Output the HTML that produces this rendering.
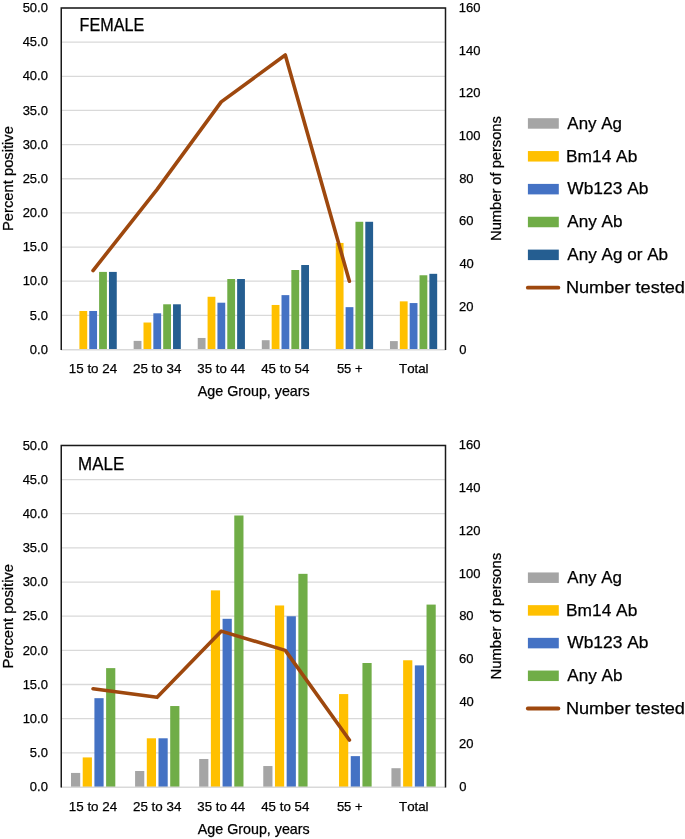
<!DOCTYPE html>
<html><head><meta charset="utf-8"><style>
html,body{margin:0;padding:0;background:#fff;}
svg{display:block;will-change:transform;}
text{font-family:"Liberation Sans",sans-serif;font-kerning:none;stroke:#000;stroke-width:0.25px;}
</style></head><body>
<svg width="685" height="839" viewBox="0 0 685 839">
<rect width="685" height="839" fill="#fff"/>
<line x1="61.0" y1="315.35" x2="445.5" y2="315.35" stroke="#D9D9D9" stroke-width="1.3"/>
<line x1="61.0" y1="281.20" x2="445.5" y2="281.20" stroke="#D9D9D9" stroke-width="1.3"/>
<line x1="61.0" y1="247.05" x2="445.5" y2="247.05" stroke="#D9D9D9" stroke-width="1.3"/>
<line x1="61.0" y1="212.90" x2="445.5" y2="212.90" stroke="#D9D9D9" stroke-width="1.3"/>
<line x1="61.0" y1="178.75" x2="445.5" y2="178.75" stroke="#D9D9D9" stroke-width="1.3"/>
<line x1="61.0" y1="144.60" x2="445.5" y2="144.60" stroke="#D9D9D9" stroke-width="1.3"/>
<line x1="61.0" y1="110.45" x2="445.5" y2="110.45" stroke="#D9D9D9" stroke-width="1.3"/>
<line x1="61.0" y1="76.30" x2="445.5" y2="76.30" stroke="#D9D9D9" stroke-width="1.3"/>
<line x1="61.0" y1="42.15" x2="445.5" y2="42.15" stroke="#D9D9D9" stroke-width="1.3"/>
<line x1="61.0" y1="8.00" x2="445.5" y2="8.00" stroke="#D9D9D9" stroke-width="1.3"/>
<rect x="79.41" y="310.98" width="7.80" height="38.52" fill="#FFC000"/>
<rect x="89.26" y="310.98" width="7.80" height="38.52" fill="#4472C4"/>
<rect x="99.11" y="271.91" width="7.80" height="77.59" fill="#70AD47"/>
<rect x="108.96" y="271.91" width="7.80" height="77.59" fill="#255E91"/>
<rect x="133.65" y="340.89" width="7.80" height="8.61" fill="#A5A5A5"/>
<rect x="143.50" y="322.52" width="7.80" height="26.98" fill="#FFC000"/>
<rect x="153.34" y="313.30" width="7.80" height="36.20" fill="#4472C4"/>
<rect x="163.19" y="304.29" width="7.80" height="45.21" fill="#70AD47"/>
<rect x="173.04" y="304.29" width="7.80" height="45.21" fill="#255E91"/>
<rect x="197.73" y="337.96" width="7.80" height="11.54" fill="#A5A5A5"/>
<rect x="207.58" y="296.77" width="7.80" height="52.73" fill="#FFC000"/>
<rect x="217.43" y="302.71" width="7.80" height="46.79" fill="#4472C4"/>
<rect x="227.28" y="279.01" width="7.80" height="70.49" fill="#70AD47"/>
<rect x="237.13" y="279.01" width="7.80" height="70.49" fill="#255E91"/>
<rect x="261.81" y="340.21" width="7.80" height="9.29" fill="#A5A5A5"/>
<rect x="271.66" y="304.97" width="7.80" height="44.53" fill="#FFC000"/>
<rect x="281.51" y="295.13" width="7.80" height="54.37" fill="#4472C4"/>
<rect x="291.36" y="270.00" width="7.80" height="79.50" fill="#70AD47"/>
<rect x="301.21" y="265.01" width="7.80" height="84.49" fill="#255E91"/>
<rect x="335.75" y="242.95" width="7.80" height="106.55" fill="#FFC000"/>
<rect x="345.60" y="307.15" width="7.80" height="42.35" fill="#4472C4"/>
<rect x="355.45" y="221.78" width="7.80" height="127.72" fill="#70AD47"/>
<rect x="365.30" y="221.78" width="7.80" height="127.72" fill="#255E91"/>
<rect x="389.98" y="341.10" width="7.80" height="8.40" fill="#A5A5A5"/>
<rect x="399.83" y="301.35" width="7.80" height="48.15" fill="#FFC000"/>
<rect x="409.68" y="303.06" width="7.80" height="46.44" fill="#4472C4"/>
<rect x="419.53" y="275.26" width="7.80" height="74.24" fill="#70AD47"/>
<rect x="429.38" y="273.82" width="7.80" height="75.68" fill="#255E91"/>
<line x1="61.0" y1="349.80" x2="445.5" y2="349.80" stroke="#D9D9D9" stroke-width="1.5"/>
<polyline points="93.04,270.53 157.12,189.42 221.21,101.91 285.29,54.96 349.38,281.20" fill="none" stroke="#9E480E" stroke-width="3.6" stroke-linecap="round" stroke-linejoin="round"/>
<path d="M61.25,350.00 V8.00 H445.50 V350.00" fill="none" stroke="#1a1a1a" stroke-width="1.5"/>
<text x="79.58" y="30.64" font-size="17.5" textLength="64.62" lengthAdjust="spacingAndGlyphs" fill="#000">FEMALE</text>
<text x="29.85" y="353.66" font-size="13.6" textLength="18.06" lengthAdjust="spacingAndGlyphs" fill="#000">0.0</text>
<text x="29.85" y="319.51" font-size="13.6" textLength="18.06" lengthAdjust="spacingAndGlyphs" fill="#000">5.0</text>
<text x="22.63" y="285.36" font-size="13.6" textLength="25.28" lengthAdjust="spacingAndGlyphs" fill="#000">10.0</text>
<text x="22.63" y="251.21" font-size="13.6" textLength="25.28" lengthAdjust="spacingAndGlyphs" fill="#000">15.0</text>
<text x="22.63" y="217.06" font-size="13.6" textLength="25.28" lengthAdjust="spacingAndGlyphs" fill="#000">20.0</text>
<text x="22.63" y="182.91" font-size="13.6" textLength="25.28" lengthAdjust="spacingAndGlyphs" fill="#000">25.0</text>
<text x="22.63" y="148.76" font-size="13.6" textLength="25.28" lengthAdjust="spacingAndGlyphs" fill="#000">30.0</text>
<text x="22.63" y="114.61" font-size="13.6" textLength="25.28" lengthAdjust="spacingAndGlyphs" fill="#000">35.0</text>
<text x="22.63" y="80.46" font-size="13.6" textLength="25.28" lengthAdjust="spacingAndGlyphs" fill="#000">40.0</text>
<text x="22.63" y="46.31" font-size="13.6" textLength="25.28" lengthAdjust="spacingAndGlyphs" fill="#000">45.0</text>
<text x="22.63" y="12.16" font-size="13.6" textLength="25.28" lengthAdjust="spacingAndGlyphs" fill="#000">50.0</text>
<text x="459.19" y="353.56" font-size="13.6" textLength="7.22" lengthAdjust="spacingAndGlyphs" fill="#000">0</text>
<text x="459.05" y="310.87" font-size="13.6" textLength="14.45" lengthAdjust="spacingAndGlyphs" fill="#000">20</text>
<text x="459.40" y="268.18" font-size="13.6" textLength="14.45" lengthAdjust="spacingAndGlyphs" fill="#000">40</text>
<text x="459.04" y="225.49" font-size="13.6" textLength="14.45" lengthAdjust="spacingAndGlyphs" fill="#000">60</text>
<text x="459.14" y="182.81" font-size="13.6" textLength="14.45" lengthAdjust="spacingAndGlyphs" fill="#000">80</text>
<text x="458.71" y="140.12" font-size="13.6" textLength="21.67" lengthAdjust="spacingAndGlyphs" fill="#000">100</text>
<text x="458.71" y="97.43" font-size="13.6" textLength="21.67" lengthAdjust="spacingAndGlyphs" fill="#000">120</text>
<text x="458.71" y="54.74" font-size="13.6" textLength="21.67" lengthAdjust="spacingAndGlyphs" fill="#000">140</text>
<text x="458.71" y="12.06" font-size="13.6" textLength="21.67" lengthAdjust="spacingAndGlyphs" fill="#000">160</text>
<text x="68.78" y="372.66" font-size="13.6" textLength="48.41" lengthAdjust="spacingAndGlyphs" fill="#000">15 to 24</text>
<text x="132.93" y="372.66" font-size="13.6" textLength="48.47" lengthAdjust="spacingAndGlyphs" fill="#000">25 to 34</text>
<text x="197.30" y="372.66" font-size="13.6" textLength="47.89" lengthAdjust="spacingAndGlyphs" fill="#000">35 to 44</text>
<text x="261.19" y="372.66" font-size="13.6" textLength="48.10" lengthAdjust="spacingAndGlyphs" fill="#000">45 to 54</text>
<text x="336.88" y="372.66" font-size="13.6" textLength="25.66" lengthAdjust="spacingAndGlyphs" fill="#000">55 +</text>
<text x="399.00" y="372.66" font-size="13.6" textLength="29.59" lengthAdjust="spacingAndGlyphs" fill="#000">Total</text>
<text x="197.77" y="396.46" font-size="13.9" textLength="111.94" lengthAdjust="spacingAndGlyphs" fill="#000">Age Group, years</text>
<text transform="translate(12.66,231.01) rotate(-90)" x="0" y="0" font-size="13.9" textLength="104.97" lengthAdjust="spacingAndGlyphs" fill="#000">Percent positive</text>
<text transform="translate(500.76,240.90) rotate(-90)" x="0" y="0" font-size="13.9" textLength="124.73" lengthAdjust="spacingAndGlyphs" fill="#000">Number of persons</text>
<rect x="527.9" y="118.20" width="30.9" height="10.5" fill="#A5A5A5"/>
<text x="567.37" y="128.69" font-size="16.7" textLength="54.52" lengthAdjust="spacingAndGlyphs" fill="#000">Any Ag</text>
<rect x="527.9" y="151.05" width="30.9" height="10.5" fill="#FFC000"/>
<text x="565.98" y="161.54" font-size="16.7" textLength="71.35" lengthAdjust="spacingAndGlyphs" fill="#000">Bm14 Ab</text>
<rect x="527.9" y="183.90" width="30.9" height="10.5" fill="#4472C4"/>
<text x="567.32" y="194.39" font-size="16.7" textLength="81.11" lengthAdjust="spacingAndGlyphs" fill="#000">Wb123 Ab</text>
<rect x="527.9" y="216.75" width="30.9" height="10.5" fill="#70AD47"/>
<text x="567.37" y="227.24" font-size="16.7" textLength="55.05" lengthAdjust="spacingAndGlyphs" fill="#000">Any Ab</text>
<rect x="527.9" y="249.60" width="30.9" height="10.5" fill="#255E91"/>
<text x="567.37" y="260.09" font-size="16.7" textLength="100.75" lengthAdjust="spacingAndGlyphs" fill="#000">Any Ag or Ab</text>
<line x1="527.8" y1="287.70" x2="558.4" y2="287.70" stroke="#9E480E" stroke-width="3.8" stroke-linecap="round"/>
<text x="565.91" y="292.94" font-size="16.7" textLength="119.06" lengthAdjust="spacingAndGlyphs" fill="#000">Number tested</text>
<line x1="61.0" y1="752.84" x2="445.5" y2="752.84" stroke="#D9D9D9" stroke-width="1.3"/>
<line x1="61.0" y1="718.68" x2="445.5" y2="718.68" stroke="#D9D9D9" stroke-width="1.3"/>
<line x1="61.0" y1="684.52" x2="445.5" y2="684.52" stroke="#D9D9D9" stroke-width="1.3"/>
<line x1="61.0" y1="650.36" x2="445.5" y2="650.36" stroke="#D9D9D9" stroke-width="1.3"/>
<line x1="61.0" y1="616.20" x2="445.5" y2="616.20" stroke="#D9D9D9" stroke-width="1.3"/>
<line x1="61.0" y1="582.04" x2="445.5" y2="582.04" stroke="#D9D9D9" stroke-width="1.3"/>
<line x1="61.0" y1="547.88" x2="445.5" y2="547.88" stroke="#D9D9D9" stroke-width="1.3"/>
<line x1="61.0" y1="513.72" x2="445.5" y2="513.72" stroke="#D9D9D9" stroke-width="1.3"/>
<line x1="61.0" y1="479.56" x2="445.5" y2="479.56" stroke="#D9D9D9" stroke-width="1.3"/>
<line x1="61.0" y1="445.40" x2="445.5" y2="445.40" stroke="#D9D9D9" stroke-width="1.3"/>
<rect x="71.01" y="772.93" width="9.20" height="14.07" fill="#A5A5A5"/>
<rect x="82.71" y="757.42" width="9.20" height="29.58" fill="#FFC000"/>
<rect x="94.41" y="698.18" width="9.20" height="88.82" fill="#4472C4"/>
<rect x="106.11" y="668.12" width="9.20" height="118.88" fill="#70AD47"/>
<rect x="135.09" y="771.01" width="9.20" height="15.99" fill="#A5A5A5"/>
<rect x="146.80" y="738.29" width="9.20" height="48.71" fill="#FFC000"/>
<rect x="158.50" y="738.29" width="9.20" height="48.71" fill="#4472C4"/>
<rect x="170.20" y="706.04" width="9.20" height="80.96" fill="#70AD47"/>
<rect x="199.18" y="758.99" width="9.20" height="28.01" fill="#A5A5A5"/>
<rect x="210.88" y="590.38" width="9.20" height="196.62" fill="#FFC000"/>
<rect x="222.58" y="618.80" width="9.20" height="168.20" fill="#4472C4"/>
<rect x="234.28" y="515.50" width="9.20" height="271.50" fill="#70AD47"/>
<rect x="263.26" y="766.03" width="9.20" height="20.97" fill="#A5A5A5"/>
<rect x="274.96" y="605.47" width="9.20" height="181.53" fill="#FFC000"/>
<rect x="286.66" y="616.27" width="9.20" height="170.73" fill="#4472C4"/>
<rect x="298.36" y="573.84" width="9.20" height="213.16" fill="#70AD47"/>
<rect x="339.04" y="694.08" width="9.20" height="92.92" fill="#FFC000"/>
<rect x="350.75" y="756.12" width="9.20" height="30.88" fill="#4472C4"/>
<rect x="362.44" y="663.00" width="9.20" height="124.00" fill="#70AD47"/>
<rect x="391.43" y="768.21" width="9.20" height="18.79" fill="#A5A5A5"/>
<rect x="403.13" y="660.27" width="9.20" height="126.73" fill="#FFC000"/>
<rect x="414.83" y="665.39" width="9.20" height="121.61" fill="#4472C4"/>
<rect x="426.53" y="604.59" width="9.20" height="182.41" fill="#70AD47"/>
<line x1="61.0" y1="787.30" x2="445.5" y2="787.30" stroke="#D9D9D9" stroke-width="1.5"/>
<polyline points="93.04,688.79 157.12,697.33 221.21,631.14 285.29,650.36 349.38,740.03" fill="none" stroke="#9E480E" stroke-width="3.6" stroke-linecap="round" stroke-linejoin="round"/>
<path d="M61.25,787.50 V445.40 H445.50 V787.50" fill="none" stroke="#1a1a1a" stroke-width="1.5"/>
<text x="78.11" y="469.74" font-size="17.5" textLength="46.12" lengthAdjust="spacingAndGlyphs" fill="#000">MALE</text>
<text x="29.85" y="791.16" font-size="13.6" textLength="18.06" lengthAdjust="spacingAndGlyphs" fill="#000">0.0</text>
<text x="29.85" y="757.00" font-size="13.6" textLength="18.06" lengthAdjust="spacingAndGlyphs" fill="#000">5.0</text>
<text x="22.63" y="722.84" font-size="13.6" textLength="25.28" lengthAdjust="spacingAndGlyphs" fill="#000">10.0</text>
<text x="22.63" y="688.68" font-size="13.6" textLength="25.28" lengthAdjust="spacingAndGlyphs" fill="#000">15.0</text>
<text x="22.63" y="654.52" font-size="13.6" textLength="25.28" lengthAdjust="spacingAndGlyphs" fill="#000">20.0</text>
<text x="22.63" y="620.36" font-size="13.6" textLength="25.28" lengthAdjust="spacingAndGlyphs" fill="#000">25.0</text>
<text x="22.63" y="586.20" font-size="13.6" textLength="25.28" lengthAdjust="spacingAndGlyphs" fill="#000">30.0</text>
<text x="22.63" y="552.04" font-size="13.6" textLength="25.28" lengthAdjust="spacingAndGlyphs" fill="#000">35.0</text>
<text x="22.63" y="517.88" font-size="13.6" textLength="25.28" lengthAdjust="spacingAndGlyphs" fill="#000">40.0</text>
<text x="22.63" y="483.72" font-size="13.6" textLength="25.28" lengthAdjust="spacingAndGlyphs" fill="#000">45.0</text>
<text x="22.63" y="449.56" font-size="13.6" textLength="25.28" lengthAdjust="spacingAndGlyphs" fill="#000">50.0</text>
<text x="459.19" y="791.06" font-size="13.6" textLength="7.22" lengthAdjust="spacingAndGlyphs" fill="#000">0</text>
<text x="459.05" y="748.36" font-size="13.6" textLength="14.45" lengthAdjust="spacingAndGlyphs" fill="#000">20</text>
<text x="459.40" y="705.66" font-size="13.6" textLength="14.45" lengthAdjust="spacingAndGlyphs" fill="#000">40</text>
<text x="459.04" y="662.96" font-size="13.6" textLength="14.45" lengthAdjust="spacingAndGlyphs" fill="#000">60</text>
<text x="459.14" y="620.26" font-size="13.6" textLength="14.45" lengthAdjust="spacingAndGlyphs" fill="#000">80</text>
<text x="458.71" y="577.56" font-size="13.6" textLength="21.67" lengthAdjust="spacingAndGlyphs" fill="#000">100</text>
<text x="458.71" y="534.86" font-size="13.6" textLength="21.67" lengthAdjust="spacingAndGlyphs" fill="#000">120</text>
<text x="458.71" y="492.16" font-size="13.6" textLength="21.67" lengthAdjust="spacingAndGlyphs" fill="#000">140</text>
<text x="458.71" y="449.46" font-size="13.6" textLength="21.67" lengthAdjust="spacingAndGlyphs" fill="#000">160</text>
<text x="68.78" y="810.56" font-size="13.6" textLength="48.41" lengthAdjust="spacingAndGlyphs" fill="#000">15 to 24</text>
<text x="132.93" y="810.56" font-size="13.6" textLength="48.47" lengthAdjust="spacingAndGlyphs" fill="#000">25 to 34</text>
<text x="197.30" y="810.56" font-size="13.6" textLength="47.89" lengthAdjust="spacingAndGlyphs" fill="#000">35 to 44</text>
<text x="261.19" y="810.56" font-size="13.6" textLength="48.10" lengthAdjust="spacingAndGlyphs" fill="#000">45 to 54</text>
<text x="336.88" y="810.56" font-size="13.6" textLength="25.66" lengthAdjust="spacingAndGlyphs" fill="#000">55 +</text>
<text x="399.00" y="810.56" font-size="13.6" textLength="29.59" lengthAdjust="spacingAndGlyphs" fill="#000">Total</text>
<text x="197.77" y="833.86" font-size="13.9" textLength="111.94" lengthAdjust="spacingAndGlyphs" fill="#000">Age Group, years</text>
<text transform="translate(12.66,668.40) rotate(-90)" x="0" y="0" font-size="13.9" textLength="104.35" lengthAdjust="spacingAndGlyphs" fill="#000">Percent positive</text>
<text transform="translate(500.76,679.62) rotate(-90)" x="0" y="0" font-size="13.9" textLength="126.76" lengthAdjust="spacingAndGlyphs" fill="#000">Number of persons</text>
<rect x="527.9" y="572.45" width="30.9" height="10.5" fill="#A5A5A5"/>
<text x="567.37" y="582.94" font-size="16.7" textLength="54.52" lengthAdjust="spacingAndGlyphs" fill="#000">Any Ag</text>
<rect x="527.9" y="605.15" width="30.9" height="10.5" fill="#FFC000"/>
<text x="565.98" y="615.64" font-size="16.7" textLength="71.35" lengthAdjust="spacingAndGlyphs" fill="#000">Bm14 Ab</text>
<rect x="527.9" y="637.85" width="30.9" height="10.5" fill="#4472C4"/>
<text x="567.32" y="648.34" font-size="16.7" textLength="81.11" lengthAdjust="spacingAndGlyphs" fill="#000">Wb123 Ab</text>
<rect x="527.9" y="670.55" width="30.9" height="10.5" fill="#70AD47"/>
<text x="567.37" y="681.04" font-size="16.7" textLength="55.05" lengthAdjust="spacingAndGlyphs" fill="#000">Any Ab</text>
<line x1="527.8" y1="708.50" x2="558.4" y2="708.50" stroke="#9E480E" stroke-width="3.8" stroke-linecap="round"/>
<text x="565.91" y="713.74" font-size="16.7" textLength="119.06" lengthAdjust="spacingAndGlyphs" fill="#000">Number tested</text>
</svg>
</body></html>
